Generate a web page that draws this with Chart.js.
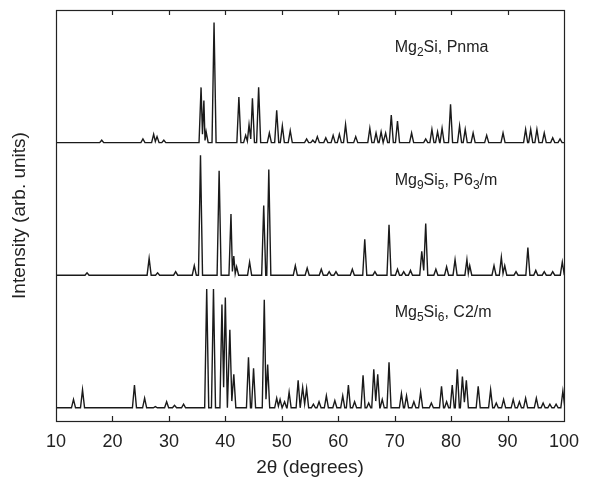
<!DOCTYPE html>
<html lang="en">
<head>
    <meta charset="UTF-8">
    <title>XRD patterns of Mg-Si phases</title>
    <script src="https://cdn.jsdelivr.net/npm/chart.js"></script>
    <style>
        body { margin: 0; padding: 0; background: #ffffff; }
        #wrap { width: 592px; height: 482px; }
    </style>
</head>
<body>
    <div id="wrap"><canvas id="xrd" width="592" height="482"></canvas></div>

    <script>
        // peak positions (2theta, degrees) and heights (% of strongest peak)
        var mg2siPos = [18.1, 25.4, 27.3, 27.9, 29.1, 35.7, 36.2, 36.6, 38.0, 42.4, 43.6, 44.2, 44.8, 45.9,
            47.8, 49.1, 50.1, 51.5, 54.4, 55.5, 56.3, 57.8, 59.1, 60.2, 61.3, 63.1, 65.6, 66.7, 67.6, 68.4,
            69.4, 70.5, 73.0, 75.5, 76.6, 77.6, 78.4, 79.9, 81.5, 82.5, 83.9, 86.3, 89.2, 93.2, 94.1, 95.2,
            96.5, 98.0, 99.3];
        var mg2siInt = [2, 3, 7, 5, 2, 46, 35, 9, 100, 38, 6, 15, 37, 46,
            8, 27, 14, 10, 3, 2, 5, 4, 6, 7, 15, 5, 12, 8, 9, 8,
            23, 18, 8, 3, 11, 9, 12, 32, 14, 11, 8, 6, 8, 11, 11, 11,
            8, 4, 3];

        var mg9si5Pos = [15.5, 26.5, 28.0, 31.2, 34.5, 35.6, 38.9, 41.0, 41.5, 42.0, 44.3, 46.8, 47.7,
            52.4, 54.5, 57.0, 58.4, 59.6, 62.5, 64.7, 66.5, 69.0, 70.5, 71.6, 72.8, 74.8, 75.5, 77.3, 79.2,
            80.7, 82.8, 83.3, 87.6, 88.9, 89.5, 91.5, 93.6, 95.0, 96.5, 98.0, 99.7];
        var mg9si5Int = [2, 14, 2, 3, 8, 100, 87, 51, 16, 7, 11, 58, 88,
            8, 6, 5, 3, 3, 5, 30, 3, 42, 5, 3, 4, 20, 43, 5, 7,
            13, 13, 8, 8, 15, 8, 3, 23, 4, 3, 3, 11];

        var mg5si6Pos = [13.1, 14.7, 23.9, 25.7, 27.6, 29.6, 31.0, 32.6, 36.7, 37.9, 39.4, 40.0, 40.8, 41.5,
            44.1, 45.0, 46.9, 47.5, 49.1, 49.7, 50.5, 51.3, 52.9, 53.7, 54.4, 55.6, 56.6, 57.9, 59.4, 60.8,
            61.8, 62.9, 64.4, 65.4, 66.3, 67.0, 67.8, 69.0, 71.2, 72.1, 73.4, 74.6, 76.5, 78.3, 79.2, 80.2,
            81.1, 82.0, 82.7, 84.8, 87.0, 88.0, 89.3, 91.0, 92.1, 93.2, 95.1, 96.3, 97.5, 98.6, 99.8];
        var mg5si6Int = [7, 15, 19, 8, 1, 5, 2, 3, 99, 99, 86, 92, 65, 28,
            42, 33, 90, 36, 8, 7, 5, 13, 23, 17, 16, 3, 5, 10, 6, 10,
            19, 5, 27, 4, 32, 28, 7, 38, 12, 10, 5, 13, 4, 18, 5, 19,
            32, 26, 23, 18, 15, 4, 7, 7, 5, 8, 8, 4, 3, 3, 14];

        // vertical offsets of the stacked patterns
        var offsets = [232, 121.5, 11];
        var xTicks = [10, 20, 30, 40, 50, 60, 70, 80, 90, 100];

        var HW = 0.36;     // half width of a peak foot (deg)
        var VALLEY = 0.2;  // depth between overlapping peaks

        function buildTrace(pos, hts, off) {
            var pts = [{ x: 10, y: off }];
            for (var i = 0; i < pos.length; i++) {
                var p = pos[i], h = hts[i];
                if (i === 0 || p - pos[i - 1] >= 2 * HW) pts.push({ x: p - HW, y: off });
                pts.push({ x: p, y: off + h });
                if (i === pos.length - 1 || pos[i + 1] - p >= 2 * HW) {
                    pts.push({ x: p + HW, y: off });
                } else {
                    pts.push({ x: (p + pos[i + 1]) / 2, y: off + VALLEY * Math.min(h, hts[i + 1]) });
                }
            }
            if (pts[pts.length - 1].x < 100) pts.push({ x: 100, y: off });
            return pts;
        }

        var labels = [
            [['Mg', 0], ['2', 1], ['Si, Pnma', 0]],
            [['Mg', 0], ['9', 1], ['Si', 0], ['5', 1], [', P6', 0], ['3', 1], ['/m', 0]],
            [['Mg', 0], ['5', 1], ['Si', 0], ['6', 1], [', C2/m', 0]]
        ];

        var FONT = '"Liberation Sans", Arial, sans-serif';

        // frame, inward ticks and phase labels
        var decor = {
            id: 'decor',
            afterDraw: function(chart) {
                var ctx = chart.ctx, a = chart.chartArea;
                var xs = chart.scales.x, ys = chart.scales.y;
                ctx.save();
                ctx.strokeStyle = '#222';
                ctx.lineWidth = 1.2;
                ctx.strokeRect(a.left + 0.5, a.top + 0.5, a.right - a.left, a.bottom - a.top);
                ctx.beginPath();
                xTicks.slice(1, -1).forEach(function(v) {
                    var px = Math.round(xs.getPixelForValue(v)) + 0.5;
                    ctx.moveTo(px, a.bottom);
                    ctx.lineTo(px, a.bottom - 5);
                    ctx.moveTo(px, a.top);
                    ctx.lineTo(px, a.top + 5);
                });
                ctx.stroke();

                ctx.fillStyle = '#222';
                ctx.textBaseline = 'middle';
                labels.forEach(function(parts, k) {
                    var x = xs.getPixelForValue(70);
                    var y = ys.getPixelForValue(offsets[k] + 79);
                    parts.forEach(function(p) {
                        ctx.font = (p[1] ? '12px ' : '16px ') + FONT;
                        ctx.fillText(p[0], x, p[1] ? y + 5 : y);
                        x += ctx.measureText(p[0]).width;
                    });
                });
                ctx.restore();
            }
        };

        var traces = [
            buildTrace(mg2siPos, mg2siInt, offsets[0]),
            buildTrace(mg9si5Pos, mg9si5Int, offsets[1]),
            buildTrace(mg5si6Pos, mg5si6Int, offsets[2])
        ];

        new Chart(document.getElementById('xrd'), {
            type: 'line',
            data: {
                datasets: traces.map(function(t) {
                    return {
                        data: t,
                        borderColor: '#1a1a1a',
                        borderWidth: 1.4,
                        pointRadius: 0,
                        tension: 0,
                        fill: false
                    };
                })
            },
            options: {
                responsive: false,
                animation: false,
                layout: { padding: { top: 10, right: 28, left: 0, bottom: 0 } },
                plugins: { legend: { display: false }, tooltip: { enabled: false } },
                scales: {
                    x: {
                        type: 'linear',
                        min: 10,
                        max: 100,
                        afterBuildTicks: function(s) { s.ticks = xTicks.map(function(v) { return { value: v }; }); },
                        afterFit: function(s) { s.height = 61; },
                        grid: { display: false, drawTicks: false },
                        border: { display: false },
                        ticks: { padding: 10, color: '#222', font: { family: FONT, size: 18 } },
                        title: { display: true, text: '2θ (degrees)', color: '#222', font: { family: FONT, size: 19 }, padding: { top: 4, bottom: 3 } }
                    },
                    y: {
                        min: 0,
                        max: 342.5,
                        afterFit: function(s) { s.width = 56; },
                        grid: { display: false, drawTicks: false },
                        border: { display: false },
                        ticks: { display: false },
                        title: { display: true, text: 'Intensity (arb. units)', color: '#222', font: { family: FONT, size: 19 }, padding: { top: 8, bottom: 4 } }
                    }
                }
            },
            plugins: [decor]
        });
    </script>
</body>
</html>
